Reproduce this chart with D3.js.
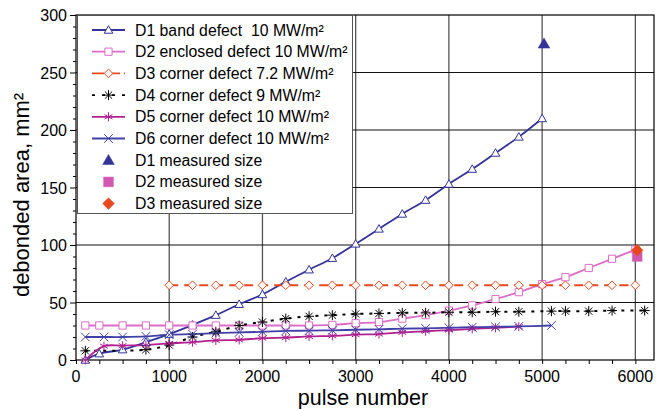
<!DOCTYPE html>
<html>
<head>
<meta charset="utf-8">
<script src="https://cdn.jsdelivr.net/npm/d3@7"></script>
<style>
  body { margin: 0; background: #fff; }
  text { font-family: "Liberation Sans", Arial, sans-serif; }
</style>
</head>
<body>
<div id="chart"></div>
<script>
const width = 663, height = 409;
const margin = { left: 76, right: 9, top: 15, bottom: 49 };

// data
const pulsesD1 = [100, 250, 500, 750, 1000, 1250, 1500, 1750, 2000, 2250, 2500, 2750, 3000, 3250, 3500, 3750, 4000, 4250, 4500, 4750, 5000];
const areaD1 = [0, 5.5, 9, 15.5, 22.5, 30.5, 39, 48.5, 57, 68, 78.5, 88.5, 101, 114, 127, 139, 153, 166, 180, 194, 210];

const pulsesD2 = [100, 250, 500, 750, 1000, 1250, 1500, 1750, 2000, 2250, 2500, 2750, 3000, 3250, 3500, 3750, 4000, 4250, 4500, 4750, 5000, 5250, 5500, 5750, 6000];
const areaD2 = [30, 30, 30, 30, 30, 30, 30, 30, 30, 30, 30, 30.5, 32, 33, 36, 39, 43, 47.5, 53, 59, 66, 72, 80, 88, 96];

const pulsesD3 = [1000, 1250, 1500, 1750, 2000, 2250, 2500, 2750, 3000, 3250, 3500, 3750, 4000, 4250, 4500, 4750, 5000, 5250, 5500, 5750, 6000];
const areaD3 = [65, 65, 65, 65, 65, 65, 65, 65, 65, 65, 65, 65, 65, 65, 65, 65, 65, 65, 65, 65, 65];

const pulsesD4 = [100, 750, 1000, 1250, 1500, 1750, 2000, 2250, 2500, 2750, 3000, 3250, 3500, 3750, 4000, 4250, 4500, 4750, 5100, 5250, 5500, 5750, 6100];
const areaD4 = [8, 9, 13, 20, 24.5, 30, 33, 36, 38, 39, 40, 40.5, 41, 41, 41.5, 41.5, 42, 42, 42.5, 42.5, 42.5, 43, 43];

const pulsesD5 = [100, 300, 500, 750, 1000, 1250, 1500, 1750, 2000, 2250, 2500, 2750, 3000, 3250, 3500, 3750, 4000, 4250, 4500, 4750];
const areaD5 = [0, 12, 12.5, 13, 14.5, 15.5, 17, 17.5, 19, 19.5, 20.5, 21, 22, 22.5, 24, 25, 26, 27, 28, 29];

const pulsesD6 = [100, 300, 500, 750, 1000, 1250, 1500, 1750, 2000, 2250, 2500, 2750, 3000, 3250, 3500, 3750, 4000, 4250, 4500, 4750, 5100];
const areaD6 = [20, 20, 20, 20.5, 22, 22.5, 23.3, 24, 24.5, 25.3, 25.5, 25.8, 26.3, 26.7, 27.3, 27.5, 28, 28.5, 28.8, 29.2, 30];

const measuredNames = ["D1 measured size", "D2 measured size", "D3 measured size"];
const measuredPulses = [5020, 6020, 6020];
const measuredAreas = [275, 90, 95.5];

const xTicks = [0, 1000, 2000, 3000, 4000, 5000, 6000];
const yTicks = [0, 50, 100, 150, 200, 250, 300];

const series = [
  { name: "D1 band defect  10 MW/m\u00b2", x: pulsesD1, y: areaD1, color: "#33339a", marker: "triangle", dash: null },
  { name: "D2 enclosed defect 10 MW/m\u00b2", x: pulsesD2, y: areaD2, color: "#dd6cc8", marker: "square", dash: null },
  { name: "D3 corner defect 7.2 MW/m\u00b2", x: pulsesD3, y: areaD3, color: "#e8481e", marker: "diamond", dash: "9,6" },
  { name: "D4 corner defect 9 MW/m\u00b2", x: pulsesD4, y: areaD4, color: "#000000", marker: "star", dash: "3,6" },
  { name: "D5 corner defect 10 MW/m\u00b2", x: pulsesD5, y: areaD5, color: "#b0208f", marker: "asterisk", dash: null },
  { name: "D6 corner defect 10 MW/m\u00b2", x: pulsesD6, y: areaD6, color: "#4040a8", marker: "cross", dash: null }
];
const measuredStyle = [
  { color: "#33339a", marker: "triangle" },
  { color: "#d058b0", marker: "square" },
  { color: "#e8481e", marker: "diamond" }
];

const svg = d3.select("#chart").append("svg")
  .attr("width", width)
  .attr("height", height);

const x = d3.scaleLinear().domain([0, 6200]).range([margin.left, width - margin.right]);
const y = d3.scaleLinear().domain([0, 300]).range([height - margin.bottom, margin.top]);

// marker path builders, centred at 0,0
function markerPath(type, r) {
  switch (type) {
    case "triangle": return `M0,${-r}L${r},${r * 0.75}L${-r},${r * 0.75}Z`;
    case "square": return `M${-r},${-r}H${r}V${r}H${-r}Z`;
    case "diamond": return `M0,${-r}L${r},0L0,${r}L${-r},0Z`;
    case "cross": return `M${-r},${-r}L${r},${r}M${-r},${r}L${r},${-r}`;
    case "asterisk": {
      const a = r * 0.87, b = r * 0.5;
      return `M0,${-r}V${r}M${-a},${-b}L${a},${b}M${-a},${b}L${a},${-b}`;
    }
    case "star": {
      const d = r * 0.72;
      return `M0,${-r}V${r}M${-r},0H${r}M${-d},${-d}L${d},${d}M${-d},${d}L${d},${-d}`;
    }
  }
}

function drawMarker(g, type, cx, cy, color, filled) {
  const r = type === "square" ? 3.6 : type === "star" ? 5 : type === "asterisk" ? 4.5 : 4.3;
  g.append("path")
    .attr("d", markerPath(type, filled ? r * 1.35 : r))
    .attr("transform", `translate(${cx},${cy})`)
    .attr("fill", filled ? color : (type === "cross" || type === "asterisk" || type === "star") ? "none" : "#fff")
    .attr("stroke", color)
    .attr("stroke-width", filled ? 0.5 : 1);
}

const plotW = width - margin.left - margin.right;
const plotH = height - margin.top - margin.bottom;

// grid
svg.append("g").selectAll("line").data(xTicks.slice(1)).join("line")
  .attr("x1", d => x(d)).attr("x2", d => x(d))
  .attr("y1", y(0)).attr("y2", y(300))
  .attr("stroke", "#555").attr("stroke-width", 1.3);
svg.append("g").selectAll("line").data(yTicks.slice(1, -1)).join("line")
  .attr("x1", x(0)).attr("x2", x(6200))
  .attr("y1", d => y(d)).attr("y2", d => y(d))
  .attr("stroke", "#111").attr("stroke-width", 1.1);

// axes
const xAxis = svg.append("g")
  .attr("transform", `translate(0,${y(0)})`)
  .call(d3.axisBottom(x).tickValues(d3.range(0, 6201, 250)).tickSize(4).tickFormat(""));
xAxis.select(".domain").remove();
svg.append("g").selectAll("text").data(xTicks).join("text")
  .attr("x", d => x(d)).attr("y", y(0) + 22)
  .attr("text-anchor", "middle")
  .attr("font-size", 16)
  .text(d => d);

const yAxis = svg.append("g")
  .attr("transform", `translate(${x(0)},0)`)
  .call(d3.axisLeft(y).tickValues(d3.range(0, 301, 10)).tickSize(3).tickFormat(""));
yAxis.select(".domain").remove();
yAxis.selectAll(".tick line").attr("x2", d => d % 50 === 0 ? -6 : -3);
svg.append("g").selectAll("text").data(yTicks).join("text")
  .attr("x", x(0) - 9).attr("y", d => y(d) + 6)
  .attr("text-anchor", "end")
  .attr("font-size", 16)
  .text(d => d);

svg.append("rect")
  .attr("x", margin.left).attr("y", margin.top)
  .attr("width", plotW).attr("height", plotH)
  .attr("fill", "none").attr("stroke", "#000").attr("stroke-width", 1.2);

// series
const line = d3.line()
  .x(d => x(d[0]))
  .y(d => y(d[1]))
  .curve(d3.curveCatmullRom.alpha(0.5));

series.forEach(s => {
  const pts = s.x.map((v, i) => [v, s.y[i]]);
  svg.append("path")
    .datum(pts)
    .attr("d", line)
    .attr("fill", "none")
    .attr("stroke", s.color)
    .attr("stroke-width", s.dash ? 2 : 1.8)
    .attr("stroke-dasharray", s.dash);
});
series.forEach(s => {
  const g = svg.append("g");
  s.x.forEach((v, i) => drawMarker(g, s.marker, x(v), y(s.y[i]), s.color, false));
});

// measured sizes
measuredPulses.forEach((v, i) => {
  drawMarker(svg, measuredStyle[i].marker, x(v), y(measuredAreas[i]), measuredStyle[i].color, true);
});

// legend
const legend = svg.append("g");
legend.append("rect")
  .attr("x", 77.5).attr("y", 15.5)
  .attr("width", 275).attr("height", 198)
  .attr("fill", "#fff").attr("stroke", "#555").attr("stroke-width", 1);

const rowH = 21.7, row0 = 30;
series.forEach((s, i) => {
  const cy = row0 + i * rowH;
  legend.append("line")
    .attr("x1", 92).attr("x2", 125).attr("y1", cy).attr("y2", cy)
    .attr("stroke", s.color).attr("stroke-width", 1.8)
    .attr("stroke-dasharray", s.marker === "star" ? "3,7" : s.dash ? "12,4" : null);
  drawMarker(legend, s.marker, 108.5, cy, s.color, false);
  legend.append("text")
    .attr("x", 135).attr("y", cy + 5.5)
    .attr("font-size", 15.8)
    .style("white-space", "pre")
    .text(s.name);
});
measuredNames.forEach((n, i) => {
  const cy = row0 + (i + 6) * rowH;
  drawMarker(legend, measuredStyle[i].marker, 108.5, cy, measuredStyle[i].color, true);
  legend.append("text")
    .attr("x", 135).attr("y", cy + 5.5)
    .attr("font-size", 15.8)
    .text(n);
});

// axis titles
svg.append("text")
  .attr("x", x(0) + plotW / 2 - 2).attr("y", 405)
  .attr("text-anchor", "middle")
  .attr("font-size", 21.5)
  .text("pulse number");
svg.append("text")
  .attr("transform", `translate(29,195) rotate(-90)`)
  .attr("text-anchor", "middle")
  .attr("font-size", 22)
  .text("debonded area, mm\u00b2");
</script>
</body>
</html>
